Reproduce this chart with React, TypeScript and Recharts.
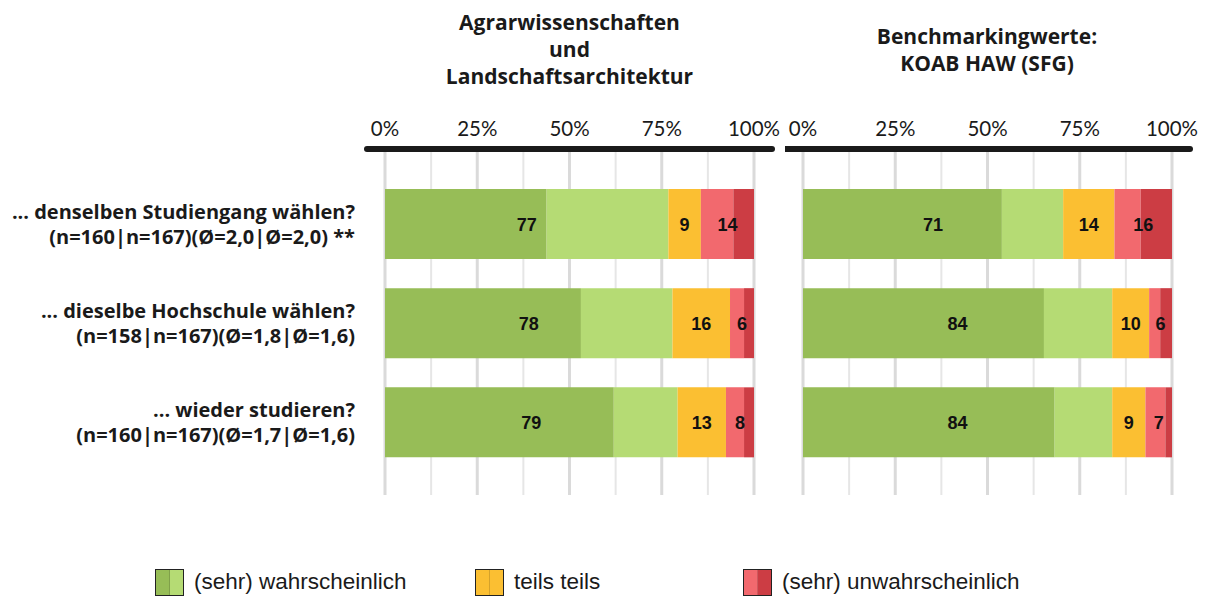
import { Bar, BarChart, CartesianGrid, LabelList, XAxis, YAxis } from "recharts";

// questions (two lines per row)
const questions = [
    "... denselben Studiengang wählen?",
    "... dieselbe Hochschule wählen?",
    "... wieder studieren?",
];
const sampleInfo = [
    "(n=160|n=167)(Ø=2,0|Ø=2,0) **",
    "(n=158|n=167)(Ø=1,8|Ø=1,6)",
    "(n=160|n=167)(Ø=1,7|Ø=1,6)",
];

// Agrarwissenschaften und Landschaftsarchitektur (percent)
const facVeryLikely = [43.8, 53.1, 62.0];
const facLikely = [33.0, 24.8, 17.3];
const facPartly = [8.8, 15.6, 13.1];
const facUnlikely = [8.8, 3.8, 4.9];
const facVeryUnlikely = [5.6, 2.7, 2.7];
const facGreenLabel = [77, 78, 79];
const facPartlyLabel = [9, 16, 13];
const facRedLabel = [14, 6, 8];

// Benchmarkingwerte KOAB HAW (SFG)
const benchVeryLikely = [53.9, 65.3, 68.2];
const benchLikely = [16.6, 18.5, 15.6];
const benchPartly = [13.9, 10.0, 9.0];
const benchUnlikely = [7.1, 3.0, 5.4];
const benchVeryUnlikely = [8.5, 3.2, 1.8];
const benchGreenLabel = [71, 84, 84];
const benchPartlyLabel = [14, 10, 9];
const benchRedLabel = [16, 6, 7];

const xTicks = [0, 12.5, 25, 37.5, 50, 62.5, 75, 87.5, 100];

const colors = {
    dg: "#97bd57",
    lg: "#b5db74",
    y: "#fbbf32",
    lr: "#f2696e",
    dr: "#cc3d44",
};

const legendItems = [
    { name: "(sehr) wahrscheinlich", left: "#97bd57", right: "#b5db74", x: 155 },
    { name: "teils teils", left: "#fbbf32", right: "#fbbf32", x: 475 },
    { name: "(sehr) unwahrscheinlich", left: "#f2696e", right: "#cc3d44", x: 743 },
];

const buildRows = (dg, lg, y, lr, dr, gl, yl, rl) =>
    questions.map((q, i) => ({
        q,
        dg: dg[i],
        lg: lg[i],
        y: y[i],
        lr: lr[i],
        dr: dr[i],
        gl: gl[i],
        yl: yl[i],
        rl: rl[i],
    }));

const facRows = buildRows(facVeryLikely, facLikely, facPartly, facUnlikely, facVeryUnlikely, facGreenLabel, facPartlyLabel, facRedLabel);
const benchRows = buildRows(benchVeryLikely, benchLikely, benchPartly, benchUnlikely, benchVeryUnlikely, benchGreenLabel, benchPartlyLabel, benchRedLabel);

const LABEL_FONT = "'Liberation Sans', Arial, sans-serif";
const TICK_FONT = "Lato, 'Open Sans', sans-serif";
const TEXT_FONT = "'Open Sans', Lato, sans-serif";

// label centred over a group of stacked segments (green total, red total)
const makeLabel = (rows, kind) => (props: any) => {
    const vb = props.viewBox || props;
    const { x, y, width, height } = vb;
    const r = rows[props.index];
    let cx = x + width / 2;
    if (kind === "green" && r) {
        const start = x - (width * r.dg) / r.lg;
        cx = (start + x + width) / 2;
    }
    if (kind === "red" && r) {
        const start = x - (width * r.lr) / r.dr;
        cx = (start + x + width) / 2;
    }
    return (
        <text
            x={cx}
            y={y + height / 2 + 7}
            textAnchor="middle"
            fontFamily={LABEL_FONT}
            fontWeight="bold"
            fontSize={18}
            fill="#111"
        >
            {props.value}
        </text>
    );
};

const PercentTick = (props: any) => {
    const { x, y, payload } = props;
    if (payload.value % 25 !== 0) return null;
    return (
        <text x={x} y={y} textAnchor="middle" fontFamily={TICK_FONT} fontSize={20.5} fill="#1a1a1a">
            {payload.value}%
        </text>
    );
};

const QuestionTick = (props: any) => {
    const { x, y, payload, index } = props;
    return (
        <text x={x} y={y} textAnchor="end" fontFamily={TEXT_FONT} fontWeight="bold" fontSize={20} fill="#1a1a1a">
            <tspan x={x} dy={-5}>{payload.value}</tspan>
            <tspan x={x} dy={25}>{sampleInfo[index]}</tspan>
        </text>
    );
};

const GridLine = (props: any) => {
    const { x1, x2, y1, y2, index } = props;
    const major = index % 2 === 0;
    return (
        <line
            x1={x1}
            x2={x2}
            y1={y1}
            y2={y2}
            stroke={major ? "#dadada" : "#e6e6e6"}
            strokeWidth={major ? 3 : 2}
        />
    );
};

function Panel({ rows, width, showCategories }) {
    return (
        <BarChart
            width={width}
            height={495}
            data={rows}
            layout="vertical"
            margin={{ top: 0, right: showCategories ? 10 : 20, bottom: 0, left: 0 }}
        >
            <CartesianGrid horizontal={false} vertical={GridLine} syncWithTicks={true} />
            <XAxis
                type="number"
                orientation="top"
                domain={[0, 100]}
                ticks={xTicks}
                height={149}
                padding={{ left: 18, right: 18 }}
                axisLine={{ stroke: "#1a1a1a", strokeWidth: 6, strokeLinecap: "round" }}
                tickLine={false}
                tickSize={6}
                tickMargin={7}
                tick={PercentTick}
                interval={0}
            />
            <YAxis
                type="category"
                dataKey="q"
                width={showCategories ? 367 : 0}
                hide={!showCategories}
                axisLine={false}
                tickLine={false}
                tickSize={6}
                tickMargin={6}
                padding={{ top: 25, bottom: 23.5 }}
                tick={QuestionTick}
                interval={0}
            />
            <Bar dataKey="dg" stackId="a" fill={colors.dg} barSize={70} isAnimationActive={false} />
            <Bar dataKey="lg" stackId="a" fill={colors.lg} barSize={70} isAnimationActive={false}>
                <LabelList dataKey="gl" content={makeLabel(rows, "green")} />
            </Bar>
            <Bar dataKey="y" stackId="a" fill={colors.y} barSize={70} isAnimationActive={false}>
                <LabelList dataKey="yl" content={makeLabel(rows, "center")} />
            </Bar>
            <Bar dataKey="lr" stackId="a" fill={colors.lr} barSize={70} isAnimationActive={false} />
            <Bar dataKey="dr" stackId="a" fill={colors.dr} barSize={70} isAnimationActive={false}>
                <LabelList dataKey="rl" content={makeLabel(rows, "red")} />
            </Bar>
        </BarChart>
    );
}

const titleStyle: any = {
    position: "absolute",
    width: 400,
    textAlign: "center",
    fontFamily: TEXT_FONT,
    fontWeight: "bold",
    fontSize: 21,
    lineHeight: "27px",
    color: "#1a1a1a",
};

export default function App() {
    return (
        <div style={{ position: "absolute", left: 0, top: 0, width: 1214, height: 599, background: "#fff" }}>
            <div style={{ ...titleStyle, left: 569.5 - 200, top: 9 }}>
                Agrarwissenschaften
                <br />
                und
                <br />
                Landschaftsarchitektur
            </div>
            <div style={{ ...titleStyle, left: 987 - 200, top: 23 }}>
                Benchmarkingwerte:
                <br />
                KOAB HAW (SFG)
            </div>
            <div style={{ position: "absolute", left: 0, top: 0 }}>
                <Panel rows={facRows} width={782} showCategories={true} />
            </div>
            <div style={{ position: "absolute", left: 785, top: 0 }}>
                <Panel rows={benchRows} width={425} showCategories={false} />
            </div>
            {legendItems.map((item) => (
                <div
                    key={item.name}
                    style={{ position: "absolute", left: item.x, top: 567, height: 30, display: "flex", alignItems: "center" }}
                >
                    <div
                        style={{
                            width: 27,
                            height: 25,
                            border: "1.5px solid #222",
                            display: "flex",
                        }}
                    >
                        <div style={{ flex: 1, background: item.left, borderRight: "1px solid rgba(0,0,0,0.15)" }} />
                        <div style={{ flex: 1, background: item.right }} />
                    </div>
                    <span
                        style={{
                            marginLeft: 10,
                            fontFamily: LABEL_FONT,
                            fontSize: 22.5,
                            color: "#1a1a1a",
                        }}
                    >
                        {item.name}
                    </span>
                </div>
            ))}
        </div>
    );
}
